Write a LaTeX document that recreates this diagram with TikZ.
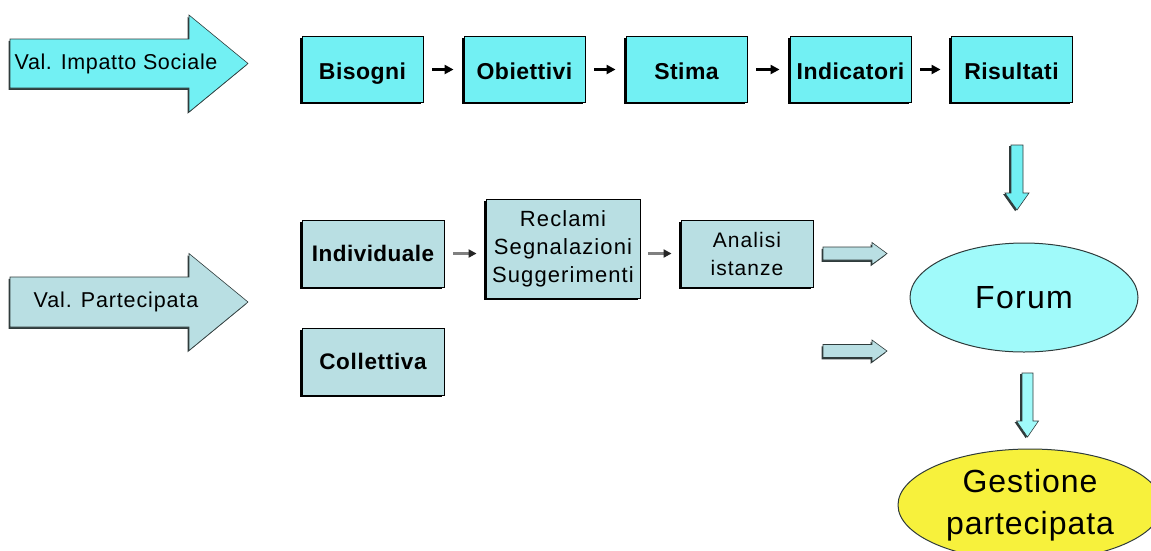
\documentclass[tikz,border=0pt]{standalone}
\usepackage{fontspec}
\setmainfont{Liberation Sans}
\newfontfamily\spS[LetterSpace=2]{Liberation Sans}
\newfontfamily\spA[LetterSpace=3]{Liberation Sans}
\newfontfamily\spB[LetterSpace=4]{Liberation Sans}
\newfontfamily\spC[LetterSpace=5]{Liberation Sans}
\usetikzlibrary{arrows.meta,shapes.geometric,shadows}
\definecolor{cbox}{HTML}{72F0F3}
\definecolor{lbox}{HTML}{B9DFE3}
\definecolor{forumc}{HTML}{A0FAFA}
\definecolor{yell}{HTML}{F7F13C}
\definecolor{edgec}{HTML}{2F3B3B}
\newcommand\myfs[1]{\fontsize{#1}{#1}\selectfont}
\newcommand\harrowshape[8]{%
  \fill[edgec, shift={(-1.5,1.8)}] ({#1},{#4-#5}) -- ({#2},{#4-#5}) -- ({#2},{#4-#6}) -- ({#3},{#4}) -- ({#2},{#4+#6}) -- ({#2},{#4+#5}) -- ({#1},{#4+#5}) -- cycle;
  \filldraw[fill=#7, draw=#8, line width=0.6pt] ({#1},{#4-#5}) -- ({#2},{#4-#5}) -- ({#2},{#4-#6}) -- ({#3},{#4}) -- ({#2},{#4+#6}) -- ({#2},{#4+#5}) -- ({#1},{#4+#5}) -- cycle;}
\newcommand\varrowshape[8]{%
  \fill[edgec, shift={(-1.8,1.2)}] ({#1-#5},{#2}) -- ({#1+#5},{#2}) -- ({#1+#5},{#3}) -- ({#1+#6},{#3}) -- ({#1},{#4}) -- ({#1-#6},{#3}) -- ({#1-#5},{#3}) -- cycle;
  \filldraw[fill=#7, draw=#8, line width=0.6pt] ({#1-#5},{#2}) -- ({#1+#5},{#2}) -- ({#1+#5},{#3}) -- ({#1+#6},{#3}) -- ({#1},{#4}) -- ({#1-#6},{#3}) -- ({#1-#5},{#3}) -- cycle;}
\begin{document}
\begin{tikzpicture}[x=1pt,y=-1pt,
  boxbase/.style={draw=black, line width=0.9pt, inner sep=0pt,
    drop shadow={shadow xshift=-1.8pt, shadow yshift=-1.8pt, opacity=1, fill=black}},
  topbox/.style={boxbase, fill=cbox, minimum width=121pt, minimum height=66pt,
    text height=19pt, text depth=0pt, font={\spS\myfs{23}\bfseries}},
  midbox/.style={boxbase, fill=lbox, minimum height=67pt},
  blackarr/.style={line width=3pt, -{Triangle[length=9pt,width=9pt]}},
  grayarr/.style={draw=black!50, line width=2.5pt, -{Triangle[length=8pt,width=8pt,color=black!85]}}
]
\useasboundingbox (0,0) rectangle (1151,550);
\clip (0,0) rectangle (1151,550);

% big left arrows
\harrowshape{10}{189}{248}{63.5}{24.5}{48.5}{cbox}{edgec}
\node[font={\spA\myfs{21.5}}] (vis) at (116,64) {Val. Impatto Sociale};
\harrowshape{10}{189}{248}{302}{25}{48.5}{lbox}{edgec}
\node[font={\spB\myfs{21.5}}] (vp) at (116,302) {Val. Partecipata};

% top row
\node[topbox] (bis) at (362.5,69.5) {Bisogni};
\node[topbox] (obi) at (524.5,69.5) {Obiettivi};
\node[topbox] (sti) at (686.5,69.5) {Stima};
\node[topbox] (ind) at (850.5,69.5) {Indicatori};
\node[topbox] (ris) at (1011.5,69.5) {Risultati};
\draw[blackarr, shorten <=9pt, shorten >=10pt] (bis) -- (obi);
\draw[blackarr, shorten <=9pt, shorten >=10pt] (obi) -- (sti);
\draw[blackarr, shorten <=9pt, shorten >=10pt] (sti) -- (ind);
\draw[blackarr, shorten <=9pt, shorten >=10pt] (ind) -- (ris);

% middle row
\node[midbox, minimum width=142pt, font={\spS\myfs{22.5}\bfseries}] (indiv) at (373,253.5) {Individuale};
\node[midbox, minimum width=154pt, minimum height=99pt, align=center, font={\spC\fontsize{22}{28}\selectfont}] (rec) at (563,248.5) {Reclami\\Segnalazioni\\Suggerimenti};
\node[midbox, minimum width=132pt, align=center, font={\spC\fontsize{21}{28}\selectfont}] (ana) at (747,253.5) {Analisi\\istanze};
\node[midbox, minimum width=142pt, font={\spA\myfs{22.5}\bfseries}] (coll) at (373,361.5) {Collettiva};
\draw[grayarr, shorten <=9pt, shorten >=9pt] (indiv.east) -- (indiv.east -| rec.west);
\draw[grayarr, shorten <=8pt, shorten >=9pt] (rec.east |- ana.west) -- (ana.west);

% forum and gestione
\node[ellipse, draw=edgec, line width=1pt, fill=forumc, minimum width=228pt, minimum height=109pt, font={\spB\myfs{32}}] (forum) at (1024,297.5) {Forum};
\node[ellipse, draw=edgec, line width=1pt, fill=yell, minimum width=264pt, minimum height=112pt, align=center, inner sep=0pt, font={\spA\fontsize{32}{42}\selectfont}] (ges) at (1030,505) {Gestione\\partecipata};

% block arrows
\harrowshape{823}{872}{887}{253.5}{6.5}{11}{lbox}{edgec}
\harrowshape{823}{872}{887}{351}{6.5}{11}{lbox}{edgec}
\varrowshape{1017}{145}{193}{210}{6}{12}{cbox}{edgec}
\varrowshape{1027.5}{373}{421}{437}{5.5}{11}{forumc}{edgec}
\end{tikzpicture}
\end{document}
